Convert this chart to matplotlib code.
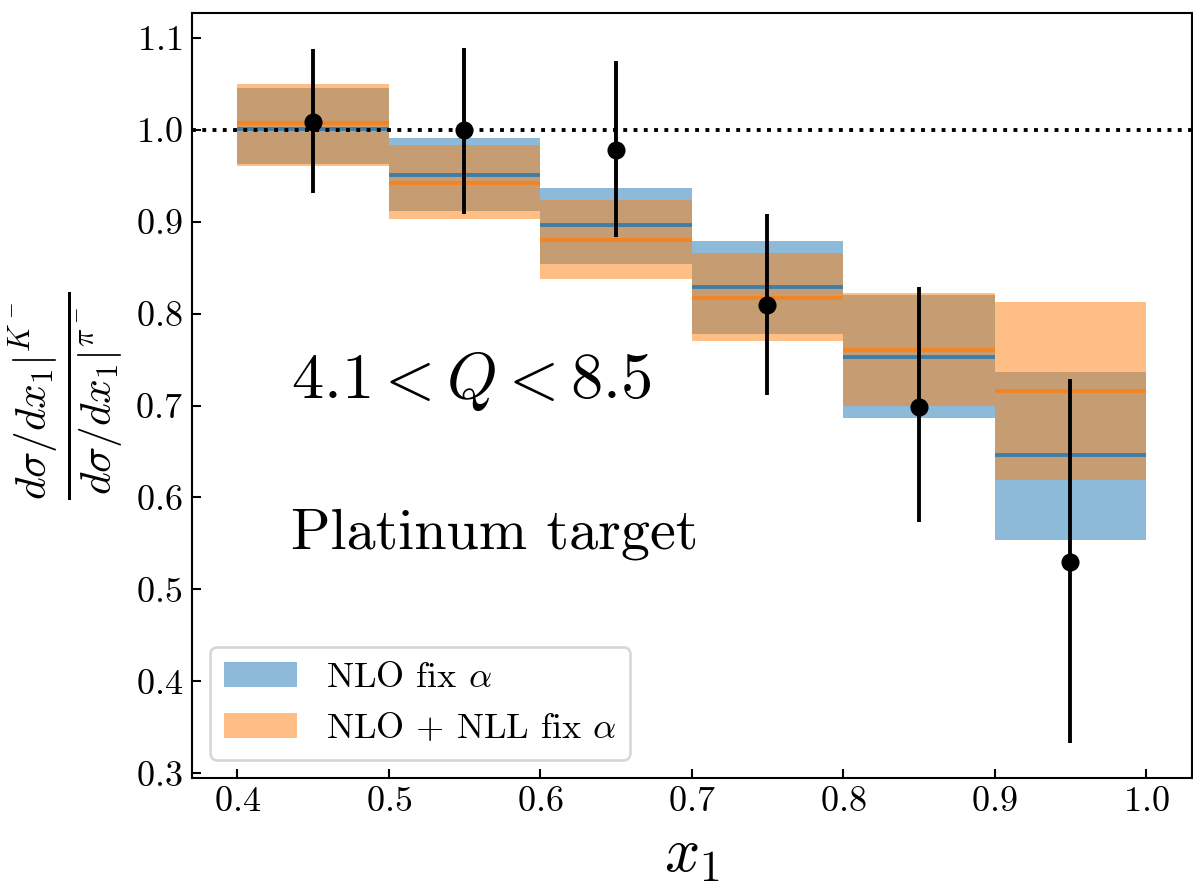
import numpy as np
import matplotlib
matplotlib.use('Agg')
import matplotlib.pyplot as plt

plt.rcParams['font.family'] = 'serif'
plt.rcParams['font.serif'] = ['cmr10', 'DejaVu Serif']
plt.rcParams['mathtext.fontset'] = 'cm'
plt.rcParams['axes.unicode_minus'] = False
plt.rcParams['axes.formatter.use_mathtext'] = True

# bin edges in x1
x_lo = [0.4, 0.5, 0.6, 0.7, 0.8, 0.9]
x_hi = [0.5, 0.6, 0.7, 0.8, 0.9, 1.0]

# NLO fix alpha: central, lower, upper
nlo_c = [1.001, 0.951, 0.896, 0.829, 0.753, 0.646]
nlo_lo = [0.963, 0.912, 0.854, 0.778, 0.686, 0.554]
nlo_hi = [1.046, 0.991, 0.937, 0.879, 0.820, 0.736]

# NLO+NLL fix alpha
nll_c = [1.007, 0.942, 0.880, 0.817, 0.760, 0.716]
nll_lo = [0.961, 0.903, 0.838, 0.770, 0.700, 0.619]
nll_hi = [1.050, 0.983, 0.924, 0.866, 0.822, 0.813]

# data points
x_data = [0.45, 0.55, 0.65, 0.75, 0.85, 0.95]
y_data = [1.008, 1.000, 0.978, 0.809, 0.698, 0.530]
y_err_lo = [0.077, 0.092, 0.095, 0.097, 0.125, 0.197]
y_err_hi = [0.080, 0.089, 0.097, 0.099, 0.131, 0.199]

dpi = 186
fig = plt.figure(figsize=(1193 / dpi, 883 / dpi), dpi=dpi)
ax = fig.add_axes([0.1607, 0.1193, 0.8382, 0.8657])

for i in range(len(x_lo)):
    xs = [x_lo[i], x_hi[i]]
    ax.fill_between(xs, nlo_lo[i], nlo_hi[i], color='C0', alpha=0.5, lw=0,
                    label=r'NLO fix $\alpha$' if i == 0 else None, zorder=1)
    ax.fill_between(xs, nll_lo[i], nll_hi[i], color='C1', alpha=0.5, lw=0,
                    label=r'NLO $+$ NLL fix $\alpha$' if i == 0 else None, zorder=1)
    ax.hlines(nlo_c[i], x_lo[i], x_hi[i], color='C0', lw=1.5, alpha=0.8, zorder=2)
    ax.hlines(nll_c[i], x_lo[i], x_hi[i], color='C1', lw=1.5, alpha=0.8, zorder=2)

ax.errorbar(x_data, y_data, yerr=[y_err_lo, y_err_hi], fmt='o', color='k',
            ms=6, elinewidth=1.5, capsize=0, zorder=4)
ax.axhline(1.0, color='k', ls=':', lw=1.5, zorder=3)

ax.set_xticks([0.4, 0.5, 0.6, 0.7, 0.8, 0.9, 1.0])
ax.set_yticks([0.3, 0.4, 0.5, 0.6, 0.7, 0.8, 0.9, 1.0, 1.1])
ax.tick_params(direction='in', labelsize=14)
ax.set_xlabel(r'$x_1$', fontsize=24)
ax.set_ylabel(r'$\frac{d\sigma/dx_1|^{K^-}}{d\sigma/dx_1|^{\pi^-}}$', fontsize=24)

ax.text(0.4356, 0.708, r'$4.1 < Q < 8.5$', fontsize=25)
ax.text(0.4356, 0.544, 'Platinum target', fontsize=22.5)

ax.legend(loc='lower left', fontsize=14)

fig.savefig('out.png', dpi=dpi)
